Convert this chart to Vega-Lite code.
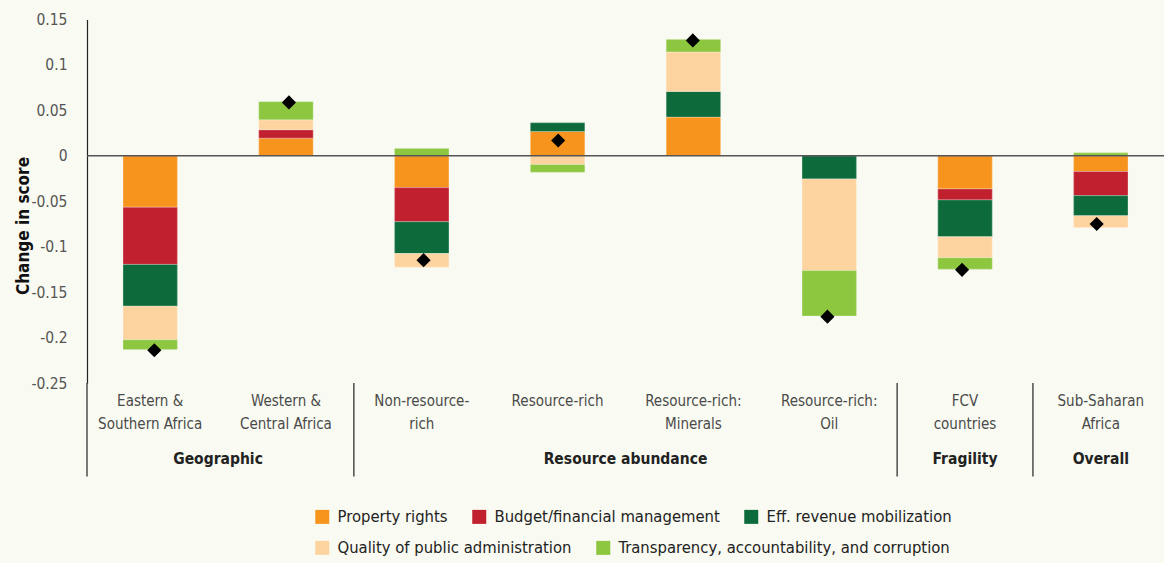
{
  "$schema": "https://vega.github.io/schema/vega-lite/v6.json",
  "width": 1077,
  "height": 363.5,
  "autosize": {"type": "none"},
  "padding": {"left": 87, "top": 19.5, "right": 0, "bottom": 180},
  "background": "#f9faf1",
  "config": {
    "view": {"stroke": null},
    "font": "DejaVu Sans Condensed, Roboto, sans-serif"
  },
  "datasets": {
    "parts": [
      {"cat": "Eastern &\nSouthern Africa", "comp": "Property rights", "k": 1, "v": -0.0566},
      {"cat": "Eastern &\nSouthern Africa", "comp": "Budget/financial management", "k": 2, "v": -0.0629},
      {"cat": "Eastern &\nSouthern Africa", "comp": "Eff. revenue mobilization", "k": 3, "v": -0.046},
      {"cat": "Eastern &\nSouthern Africa", "comp": "Quality of public administration", "k": 4, "v": -0.037},
      {"cat": "Eastern &\nSouthern Africa", "comp": "Transparency, accountability, and corruption", "k": 5, "v": -0.0107},
      {"cat": "Western &\nCentral Africa", "comp": "Property rights", "k": 1, "v": 0.0194},
      {"cat": "Western &\nCentral Africa", "comp": "Budget/financial management", "k": 2, "v": 0.0093},
      {"cat": "Western &\nCentral Africa", "comp": "Quality of public administration", "k": 4, "v": 0.011},
      {"cat": "Western &\nCentral Africa", "comp": "Transparency, accountability, and corruption", "k": 5, "v": 0.0199},
      {"cat": "Non-resource-\nrich", "comp": "Property rights", "k": 1, "v": -0.035},
      {"cat": "Non-resource-\nrich", "comp": "Budget/financial management", "k": 2, "v": -0.0375},
      {"cat": "Non-resource-\nrich", "comp": "Eff. revenue mobilization", "k": 3, "v": -0.035},
      {"cat": "Non-resource-\nrich", "comp": "Quality of public administration", "k": 4, "v": -0.015},
      {"cat": "Non-resource-\nrich", "comp": "Transparency, accountability, and corruption", "k": 5, "v": 0.008},
      {"cat": "Resource-rich", "comp": "Property rights", "k": 1, "v": 0.0268},
      {"cat": "Resource-rich", "comp": "Eff. revenue mobilization", "k": 3, "v": 0.0096},
      {"cat": "Resource-rich", "comp": "Quality of public administration", "k": 4, "v": -0.0096},
      {"cat": "Resource-rich", "comp": "Transparency, accountability, and corruption", "k": 5, "v": -0.0085},
      {"cat": "Resource-rich:\nMinerals", "comp": "Property rights", "k": 1, "v": 0.0426},
      {"cat": "Resource-rich:\nMinerals", "comp": "Eff. revenue mobilization", "k": 3, "v": 0.0283},
      {"cat": "Resource-rich:\nMinerals", "comp": "Quality of public administration", "k": 4, "v": 0.0434},
      {"cat": "Resource-rich:\nMinerals", "comp": "Transparency, accountability, and corruption", "k": 5, "v": 0.0136},
      {"cat": "Resource-rich:\nOil", "comp": "Eff. revenue mobilization", "k": 3, "v": -0.0254},
      {"cat": "Resource-rich:\nOil", "comp": "Quality of public administration", "k": 4, "v": -0.1009},
      {"cat": "Resource-rich:\nOil", "comp": "Transparency, accountability, and corruption", "k": 5, "v": -0.05},
      {"cat": "FCV\ncountries", "comp": "Property rights", "k": 1, "v": -0.0364},
      {"cat": "FCV\ncountries", "comp": "Budget/financial management", "k": 2, "v": -0.0121},
      {"cat": "FCV\ncountries", "comp": "Eff. revenue mobilization", "k": 3, "v": -0.0405},
      {"cat": "FCV\ncountries", "comp": "Quality of public administration", "k": 4, "v": -0.0232},
      {"cat": "FCV\ncountries", "comp": "Transparency, accountability, and corruption", "k": 5, "v": -0.0125},
      {"cat": "Sub-Saharan\nAfrica", "comp": "Property rights", "k": 1, "v": -0.0173},
      {"cat": "Sub-Saharan\nAfrica", "comp": "Budget/financial management", "k": 2, "v": -0.0265},
      {"cat": "Sub-Saharan\nAfrica", "comp": "Eff. revenue mobilization", "k": 3, "v": -0.0221},
      {"cat": "Sub-Saharan\nAfrica", "comp": "Quality of public administration", "k": 4, "v": -0.0129},
      {"cat": "Sub-Saharan\nAfrica", "comp": "Transparency, accountability, and corruption", "k": 5, "v": 0.0033}
    ],
    "net": [
      {"cat": "Eastern &\nSouthern Africa", "net": -0.214},
      {"cat": "Western &\nCentral Africa", "net": 0.0588},
      {"cat": "Non-resource-\nrich", "net": -0.1148},
      {"cat": "Resource-rich", "net": 0.0169},
      {"cat": "Resource-rich:\nMinerals", "net": 0.127},
      {"cat": "Resource-rich:\nOil", "net": -0.177},
      {"cat": "FCV\ncountries", "net": -0.1255},
      {"cat": "Sub-Saharan\nAfrica", "net": -0.075}
    ],
    "zero": [{"v": 0}],
    "groups": [
      {"group": "Geographic", "pos": 0.5},
      {"group": "Resource abundance", "pos": 3.5},
      {"group": "Fragility", "pos": 6},
      {"group": "Overall", "pos": 7}
    ],
    "seps": [
      {"pos": -0.465},
      {"pos": 1.5},
      {"pos": 5.5},
      {"pos": 6.5}
    ]
  },
  "resolve": {"scale": {"x": "independent"}},
  "layer": [
    {
      "data": {"name": "parts"},
      "mark": {"type": "bar", "stroke": "#ffffff", "strokeWidth": 0.6, "strokeOpacity": 0.5},
      "encoding": {
        "x": {
          "field": "cat",
          "type": "nominal",
          "sort": ["Eastern &\nSouthern Africa", "Western &\nCentral Africa", "Non-resource-\nrich", "Resource-rich", "Resource-rich:\nMinerals", "Resource-rich:\nOil", "FCV\ncountries", "Sub-Saharan\nAfrica"],
          "scale": {"paddingInner": 0.6, "paddingOuter": 0.265},
          "axis": {
            "labelExpr": "split(datum.label, '\\n')",
            "domain": false,
            "ticks": false,
            "tickSize": 0,
            "labelPadding": 10,
            "labelFontSize": 15,
            "labelColor": "#4a4a4a",
            "labelLineHeight": 23,
            "labelAngle": 0,
            "title": null
          }
        },
        "y": {
          "field": "v",
          "type": "quantitative",
          "stack": "zero",
          "scale": {"domain": [-0.25, 0.15], "nice": false, "zero": false},
          "axis": {
            "values": [0.15, 0.1, 0.05, 0, -0.05, -0.1, -0.15, -0.2, -0.25],
            "labelExpr": "datum.value + ''",
            "grid": false,
            "ticks": false,
            "tickSize": 0,
            "labelPadding": 20,
            "labelFontSize": 15.5,
            "labelColor": "#555555",
            "domain": true,
            "domainColor": "#222222",
            "domainWidth": 1.2,
            "title": "Change in score",
            "titleFontSize": 17,
            "titleFontWeight": "bold",
            "titleColor": "#111111",
            "titleX": -59,
            "titleY": 206,
            "titleAngle": -90,
            "titleAlign": "center",
            "titleBaseline": "alphabetic"
          }
        },
        "order": {"field": "k", "type": "quantitative", "sort": "ascending"},
        "color": {
          "field": "comp",
          "type": "nominal",
          "scale": {
            "domain": ["Property rights", "Budget/financial management", "Eff. revenue mobilization", "Quality of public administration", "Transparency, accountability, and corruption"],
            "range": ["#f7941d", "#c1202f", "#0d6b3b", "#fdd49f", "#8dc63f"]
          },
          "legend": {
            "values": ["Property rights", "Budget/financial management", "Eff. revenue mobilization"],
            "orient": "none",
            "legendX": 227,
            "legendY": 489,
            "direction": "horizontal",
            "title": null,
            "symbolType": "square",
            "symbolSize": 196,
            "symbolStrokeWidth": 0,
            "labelFontSize": 16.5,
            "labelColor": "#222222",
            "labelOffset": 7,
            "columnPadding": 23,
            "labelLimit": 400,
            "padding": 0
          }
        }
      }
    },
    {
      "data": {"name": "parts"},
      "mark": {"type": "bar", "stroke": "#ffffff", "strokeWidth": 0.6, "strokeOpacity": 0.5},
      "encoding": {
        "x": {
          "field": "cat",
          "type": "nominal",
          "sort": ["Eastern &\nSouthern Africa", "Western &\nCentral Africa", "Non-resource-\nrich", "Resource-rich", "Resource-rich:\nMinerals", "Resource-rich:\nOil", "FCV\ncountries", "Sub-Saharan\nAfrica"],
          "scale": {"paddingInner": 0.6, "paddingOuter": 0.265},
          "axis": null
        },
        "y": {"field": "v", "type": "quantitative", "stack": "zero"},
        "order": {"field": "k", "type": "quantitative", "sort": "ascending"},
        "fill": {
          "field": "comp",
          "type": "nominal",
          "scale": {
            "domain": ["Quality of public administration", "Transparency, accountability, and corruption", "Property rights", "Budget/financial management", "Eff. revenue mobilization"],
            "range": ["#fdd49f", "#8dc63f", "#f7941d", "#c1202f", "#0d6b3b"]
          },
          "legend": {
            "values": ["Quality of public administration", "Transparency, accountability, and corruption"],
            "orient": "none",
            "legendX": 227,
            "legendY": 520,
            "direction": "horizontal",
            "title": null,
            "symbolType": "square",
            "symbolSize": 196,
            "symbolStrokeWidth": 0,
            "labelFontSize": 16.5,
            "labelColor": "#222222",
            "labelOffset": 7,
            "columnPadding": 23,
            "labelLimit": 400,
            "padding": 0
          }
        }
      }
    },
    {
      "data": {"name": "zero"},
      "mark": {"type": "rule", "color": "#555555", "strokeWidth": 1.5},
      "encoding": {"y": {"field": "v", "type": "quantitative"}}
    },
    {
      "data": {"name": "net"},
      "mark": {"type": "point", "shape": "diamond", "filled": true, "color": "#000000", "size": 200, "opacity": 1},
      "encoding": {
        "x": {
          "field": "cat",
          "type": "nominal",
          "sort": ["Eastern &\nSouthern Africa", "Western &\nCentral Africa", "Non-resource-\nrich", "Resource-rich", "Resource-rich:\nMinerals", "Resource-rich:\nOil", "FCV\ncountries", "Sub-Saharan\nAfrica"],
          "scale": {"paddingInner": 0.6, "paddingOuter": 0.265},
          "axis": null
        },
        "y": {"field": "net", "type": "quantitative"}
      }
    },
    {
      "data": {"name": "seps"},
      "mark": {"type": "rule", "color": "#222222", "strokeWidth": 1.2},
      "encoding": {
        "x": {"field": "pos", "type": "quantitative", "scale": {"domain": [-0.465, 7.465], "nice": false, "zero": false}, "axis": null},
        "y": {"datum": -0.25, "type": "quantitative"},
        "y2": {"datum": -0.353}
      }
    },
    {
      "data": {"name": "groups"},
      "mark": {"type": "text", "fontSize": 15.5, "fontWeight": "bold", "color": "#222222", "align": "center", "baseline": "middle"},
      "encoding": {
        "x": {"field": "pos", "type": "quantitative", "scale": {"domain": [-0.465, 7.465], "nice": false, "zero": false}, "axis": null},
        "text": {"field": "group"},
        "y": {"datum": -0.3335, "type": "quantitative"}
      }
    }
  ]
}
